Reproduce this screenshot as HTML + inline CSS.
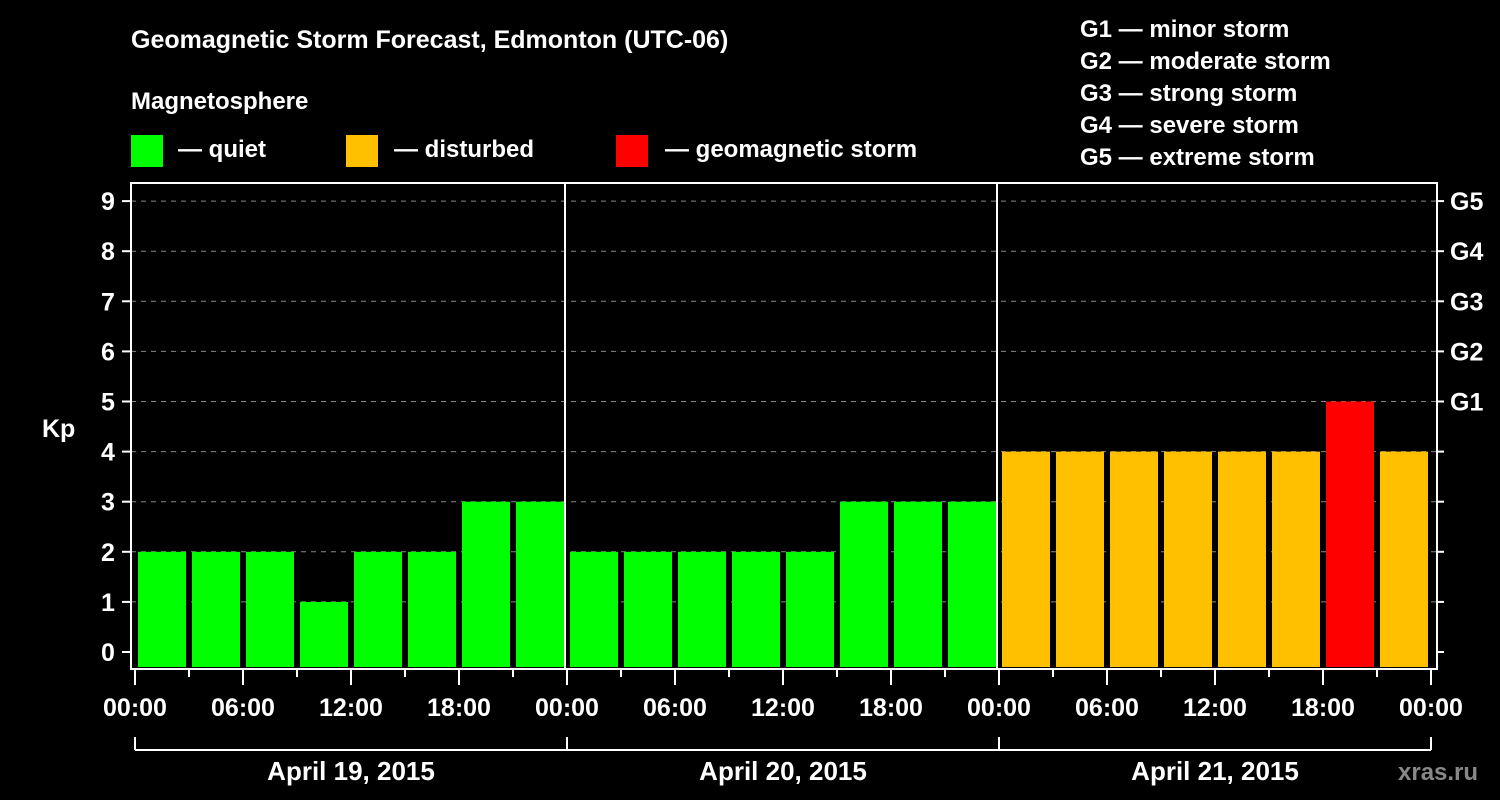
<!DOCTYPE html>
<html><head><meta charset="utf-8"><style>
body{margin:0;background:#000;width:1500px;height:800px;overflow:hidden}
svg{display:block;font-family:"Liberation Sans",sans-serif;font-weight:bold;fill:#fff}
</style></head><body>
<svg id="c" width="1500" height="800">
<text x="131" y="48" font-size="25">Geomagnetic Storm Forecast, Edmonton (UTC-06)</text>
<text x="131" y="109" font-size="24">Magnetosphere</text>
<g><rect x="131" y="135" width="32" height="32" fill="#00ff00"/><text x="178" y="157" font-size="24">— quiet</text></g>
<g><rect x="346" y="135" width="32" height="32" fill="#ffc000"/><text x="394" y="157" font-size="24">— disturbed</text></g>
<g><rect x="616" y="135" width="32" height="32" fill="#ff0000"/><text x="665" y="157" font-size="24">— geomagnetic storm</text></g>
<g font-size="24">
<text x="1080" y="37">G1 — minor storm</text><text x="1080" y="69">G2 — moderate storm</text><text x="1080" y="101">G3 — strong storm</text><text x="1080" y="133">G4 — severe storm</text><text x="1080" y="165">G5 — extreme storm</text></g>
<text x="42" y="437" font-size="25">Kp</text>
<text x="1398" y="780" font-size="24" fill="#888">xras.ru</text>
<g id="grid"></g><g id="bars"></g><g id="axes"></g>
</svg>
<script>
const values=[2,2,2,1,2,2,3,3, 2,2,2,2,2,3,3,3, 4,4,4,4,4,4,5,4];
const dayLabels=["April 19, 2015","April 20, 2015","April 21, 2015"];
const hourLabels=["00:00","06:00","12:00","18:00"];
const gLabels=["G1","G2","G3","G4","G5"];
const NS="http://www.w3.org/2000/svg";
const L=135,W=54,Y0=652,U=50.1,TOP=183,BOT=669;
const x=i=>L+i*W, y=v=>Y0-v*U;
function mk(p,t,a){const e=document.createElementNS(NS,t);for(const k in a)e.setAttribute(k,a[k]);p.appendChild(e);return e;}
const grid=document.getElementById('grid'),bars=document.getElementById('bars'),ax=document.getElementById('axes');
const color=v=>v>=5?"#ff0000":v>=4?"#ffc000":"#00ff00";
values.forEach((v,i)=>{const r=mk(bars,'rect',{x:x(i)+3,y:y(v),width:48,height:667-y(v),fill:color(v)});

});
for(let k=0;k<=9;k++){
 if(k>0){const g=mk(grid,'line',{x1:131,x2:1437,y1:y(k),y2:y(k),stroke:'#888','stroke-dasharray':'5,5'});
 
 }
 mk(ax,'line',{x1:122,x2:131,y1:y(k),y2:y(k),stroke:'#fff','stroke-width':2});
 mk(ax,'line',{x1:1437,x2:1444,y1:y(k),y2:y(k),stroke:'#fff','stroke-width':2});
 const t=mk(ax,'text',{x:108,y:y(k)+9,'font-size':25,'text-anchor':'middle'});t.textContent=k;
 
 
}
gLabels.forEach((g,i)=>{const t=mk(ax,'text',{x:1450,y:y(i+5)+9,'font-size':25});t.textContent=g;

});
mk(ax,'rect',{x:131,y:TOP,width:1306,height:BOT-TOP,fill:'none',stroke:'#fff','stroke-width':2});
for(let d=1;d<3;d++)mk(ax,'line',{x1:x(d*8)-2,x2:x(d*8)-2,y1:TOP,y2:BOT,stroke:'#fff','stroke-width':2});
for(let i=0;i<=24;i++){
 mk(ax,'line',{x1:x(i),x2:x(i),y1:BOT,y2:i%2==0?685:677,stroke:'#fff','stroke-width':2});
 if(i%2==0){const t=mk(ax,'text',{x:x(i),y:716,'font-size':25,'text-anchor':'middle'});t.textContent=hourLabels[(i/2)%4];
 
 }
}
mk(ax,'line',{x1:x(0),x2:x(24),y1:750,y2:750,stroke:'#fff','stroke-width':2});
for(let d=0;d<=3;d++)mk(ax,'line',{x1:x(d*8),x2:x(d*8),y1:737,y2:750,stroke:'#fff','stroke-width':2});
dayLabels.forEach((s,d)=>{const t=mk(ax,'text',{x:x(d*8+4),y:780,'font-size':26,'text-anchor':'middle'});t.textContent=s;

});
</script>
</body></html>
